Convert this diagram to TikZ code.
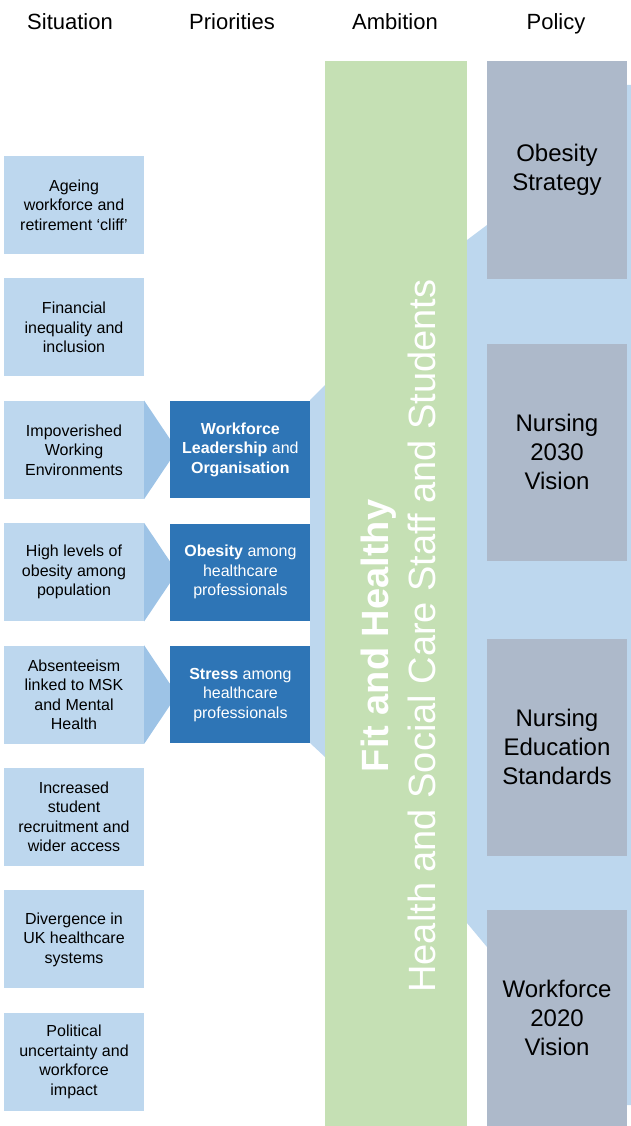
\documentclass[tikz,border=0pt]{standalone}
\usepackage{fontspec}
\setmainfont{Liberation Sans}
\usetikzlibrary{positioning,calc,backgrounds}
\definecolor{sitblue}{HTML}{BDD7EE}
\definecolor{tipblue}{HTML}{9DC3E6}
\definecolor{prioblue}{HTML}{2E75B6}
\definecolor{ambgreen}{HTML}{C5E0B4}
\definecolor{polgrey}{HTML}{ADB9CA}

\begin{document}
\begin{tikzpicture}[x=1pt,y=-1pt,node distance=24pt,
    sit/.style={fill=sitblue,minimum width=140pt,minimum height=98pt,inner sep=2pt,align=center,font=\fontsize{16}{19.5}\selectfont},
    prio/.style={fill=prioblue,text=white,minimum width=140pt,minimum height=97pt,inner sep=2pt,align=center,font=\fontsize{16}{19.5}\selectfont},
    pol/.style={fill=polgrey,minimum width=140pt,minimum height=217pt,inner sep=2pt,align=center,font=\fontsize{24}{29}\selectfont},
    head/.style={anchor=base,font=\fontsize{22}{26}\selectfont},
    tip/.style={fill=tipblue},
    band/.style={fill=sitblue}]
    \useasboundingbox (0,0) rectangle (631,1126);
    % column headings
    \node[head] (hsit) at (70,30) {Situation};
    \node[head] (hprio) at (232,30) {Priorities};
    \node[head] (hamb) at (395,30) {Ambition};
    \node[head] (hpol) at (556,30) {Policy};
    % situation
    \node[sit] (s1) at (74,205) {Ageing\\workforce and\\retirement ‘cliff’};
    \node[sit,below=of s1] (s2) {Financial\\inequality and\\inclusion};
    \node[sit,below=of s2] (s3) {Impoverished\\Working\\Environments};
    \node[sit,below=of s3] (s4) {High levels of\\obesity among\\population};
    \node[sit,below=of s4] (s5) {Absenteeism\\linked to MSK\\and Mental\\Health};
    \node[sit,below=of s5] (s6) {Increased\\student\\recruitment and\\wider access};
    \node[sit,below=of s6] (s7) {Divergence in\\UK healthcare\\systems};
    \node[sit,below=of s7] (s8) {Political\\uncertainty and\\workforce\\impact};
    % priorities
    \node[prio,right=26pt of s3] (p1) {\textbf{Workforce}\\\textbf{Leadership} and\\\textbf{Organisation}};
    \node[prio,right=26pt of s4] (p2) {\textbf{Obesity} among\\healthcare\\professionals};
    \node[prio,right=26pt of s5] (p3) {\textbf{Stress} among\\healthcare\\professionals};
    % ambition
    \node[fill=ambgreen,minimum width=142pt,minimum height=1065pt,inner sep=0pt,anchor=north west] (amb) at (325,61) {};
    \node[rotate=90,anchor=base,text=white,font=\fontsize{38}{46}\selectfont\bfseries] (fit) at (388,636) {Fit and Healthy};
    \node[rotate=90,anchor=base,text=white,font=\fontsize{38}{46}\selectfont] (staff) at (435,636) {Health and Social Care Staff and Students};
    % policy
    \node[pol] (pol1) at (557,170) {Obesity\\Strategy};
    \node[pol] (pol2) at (557,452) {Nursing\\2030\\Vision};
    \node[pol] (pol3) at (557,747) {Nursing\\Education\\Standards};
    \node[pol] (pol4) at (557,1018) {Workforce\\2020\\Vision};
    \begin{pgfonlayer}{background}
    \foreach \s in {s3,s4,s5}
        \fill[tip] (\s.north east) -- ($(\s.east)+(33,0)$) -- (\s.south east) -- cycle;
    \fill[band] (310,400) -- (325,385) -- (325,757) -- (310,743) -- cycle;
    \fill[band] (467,240) -- (487,225) -- (487,85) -- (631,85) -- (631,1105) -- (487,1105) -- (487,947) -- (467,923) -- cycle;
    \end{pgfonlayer}
\end{tikzpicture}
\end{document}
